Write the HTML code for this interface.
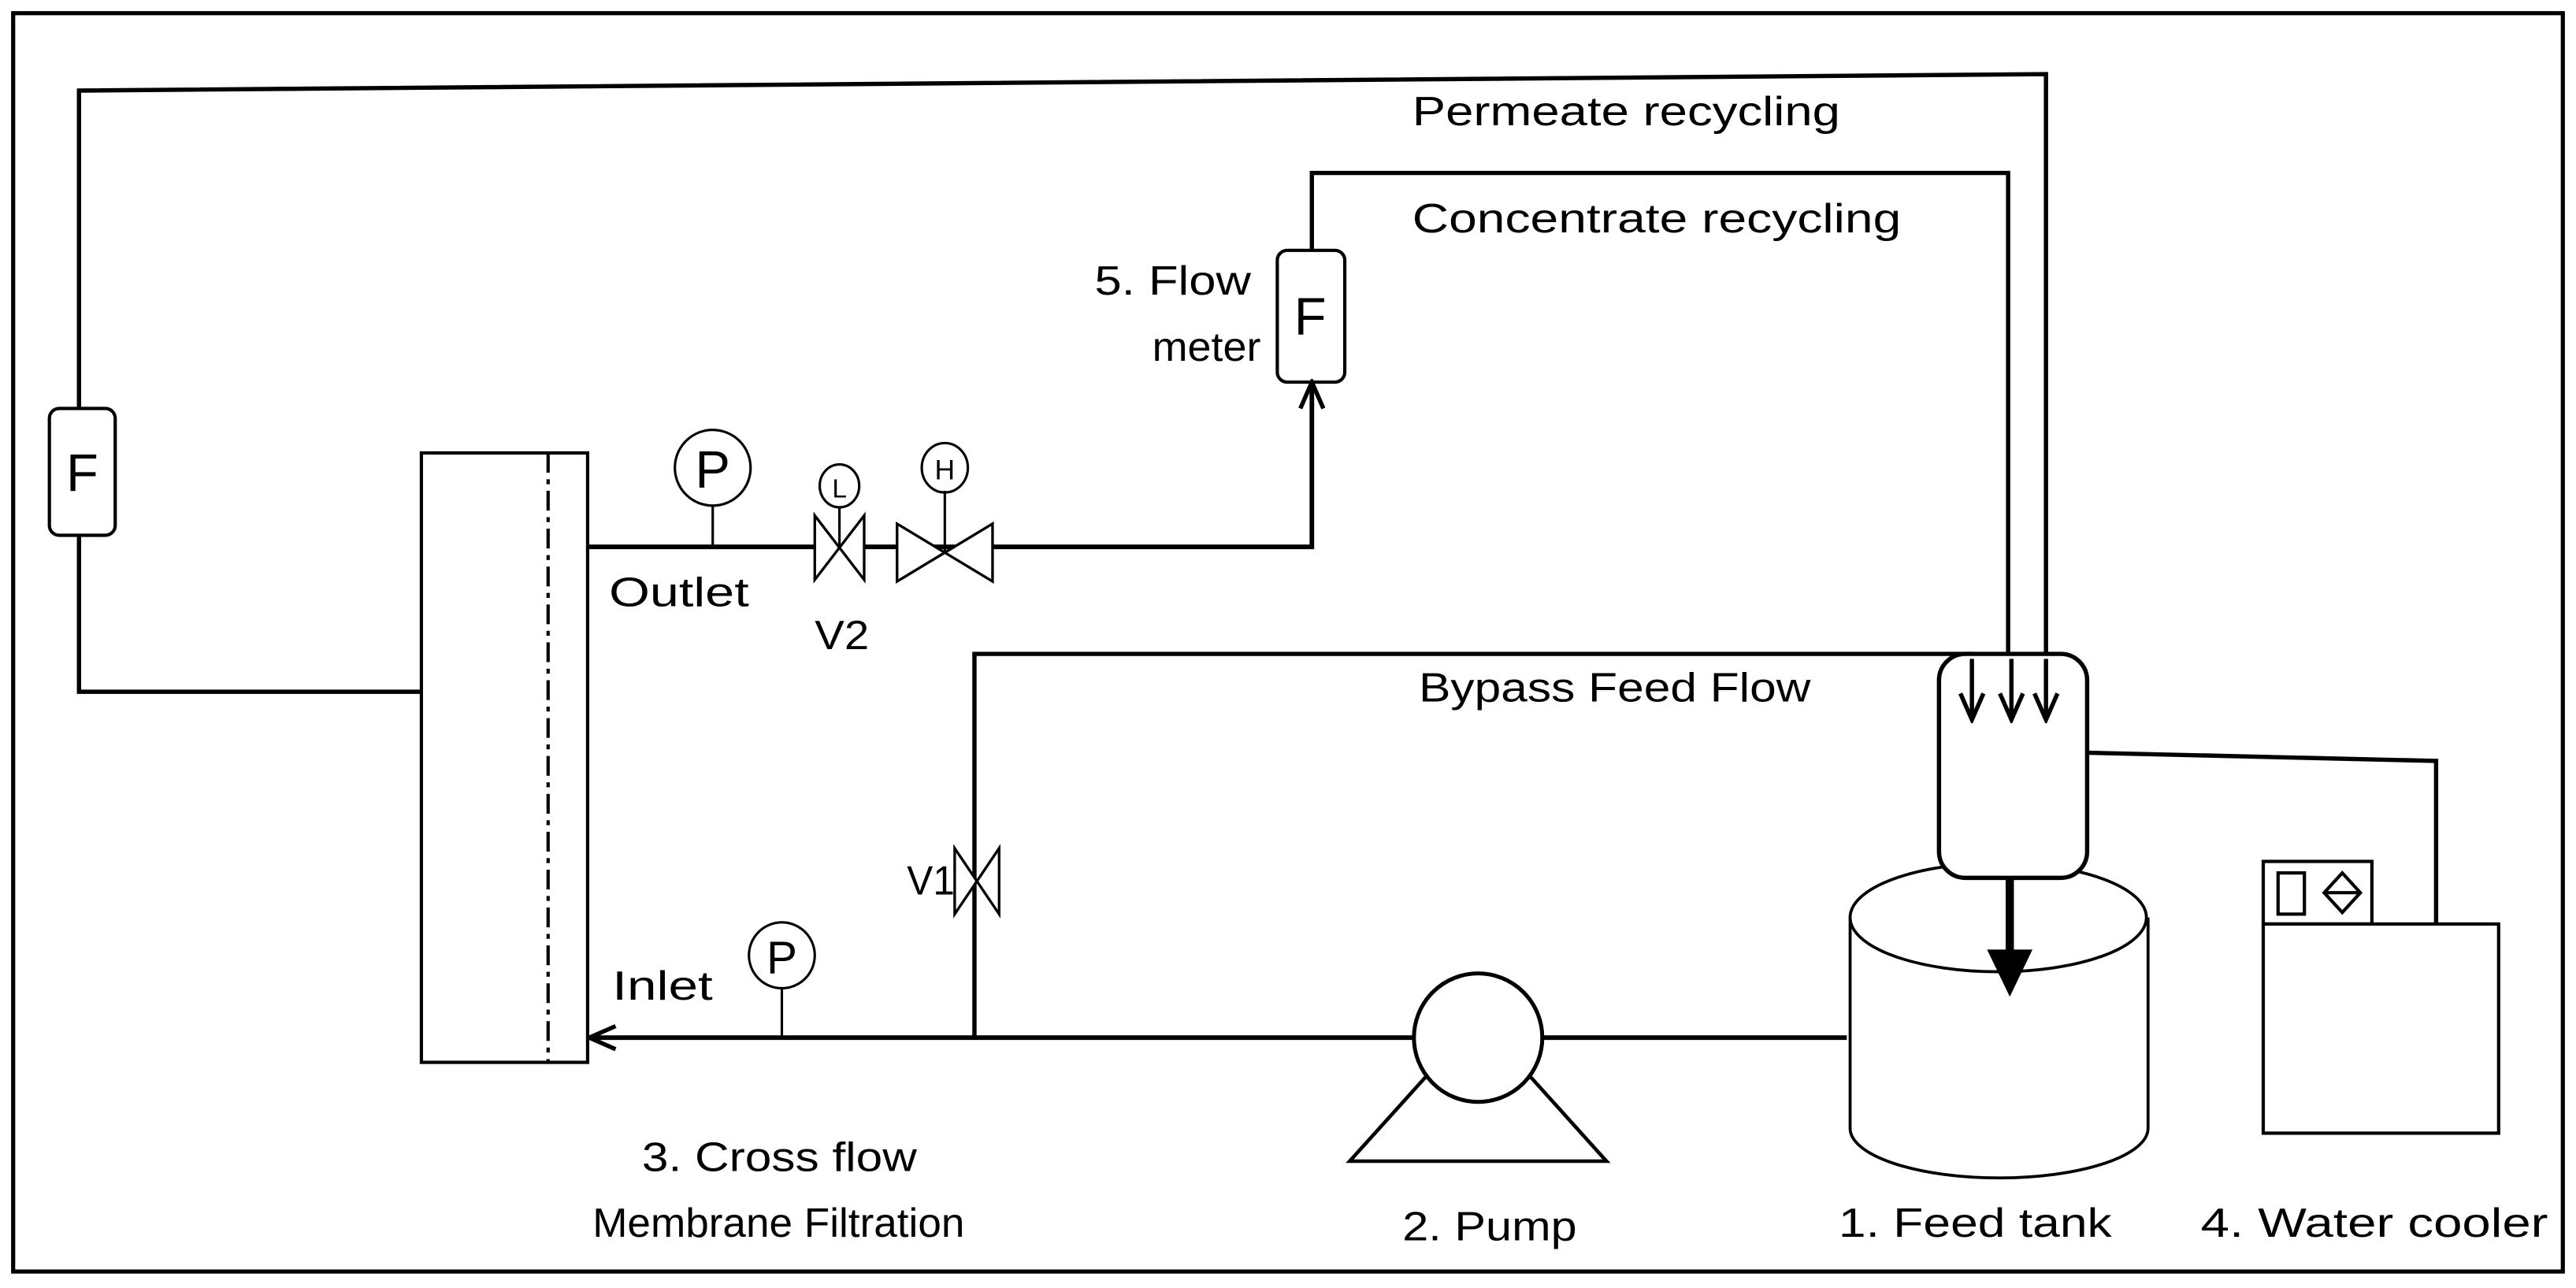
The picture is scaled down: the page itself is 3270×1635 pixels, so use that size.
<!DOCTYPE html>
<html><head><style>html,body{margin:0;padding:0;background:#fff}svg{display:block}</style></head>
<body>
<svg width="3270" height="1635" viewBox="0 0 1565 782" preserveAspectRatio="none" xmlns="http://www.w3.org/2000/svg" font-family="Liberation Sans, sans-serif" fill="none" stroke="#000">
<defs>
<marker id="a" markerWidth="20" markerHeight="20" refX="18" refY="10" orient="auto" markerUnits="userSpaceOnUse"><path d="M2,3 L18,10 L2,17" stroke="#000" stroke-width="2.6" fill="none"/></marker>
</defs>
<rect x="8" y="8" width="1549" height="764" stroke-width="2.5"/>
<!-- permeate -->
<polyline points="256,420 48,420 48,325" stroke-width="2.6"/>
<polyline points="48,248 48,55 1243,45 1243,437" stroke-width="2.6" marker-end="url(#a)"/>
<rect x="30" y="248" width="40" height="77" rx="6" stroke-width="2"/>
<text x="50" y="298" font-size="32" text-anchor="middle" fill="#000" stroke="none">F</text>
<!-- membrane -->
<rect x="256" y="275" width="101" height="370" stroke-width="2"/>
<line x1="333" y1="275" x2="333" y2="645" stroke-width="2" stroke-dasharray="12,4,3,4"/>
<!-- outlet -->
<polyline points="357,332 797,332 797,232" stroke-width="2.8" marker-end="url(#a)"/>
<rect x="776" y="152" width="41" height="80" rx="6" stroke-width="2"/>
<text x="796" y="203" font-size="32" text-anchor="middle" fill="#000" stroke="none">F</text>
<polyline points="797,152 797,105 1220,105 1220,437" stroke-width="2.6" marker-end="url(#a)"/>
<circle cx="433" cy="284" r="23" stroke-width="1.5" fill="#fff"/>
<text x="433" y="296" font-size="32" text-anchor="middle" fill="#000" stroke="none">P</text>
<line x1="433" y1="307" x2="433" y2="332" stroke-width="1.5"/>
<path d="M495,313 L525,352 L525,313 L495,352 Z" stroke-width="1.6" fill="#fff"/>
<line x1="510" y1="308" x2="510" y2="332" stroke-width="1.5"/>
<ellipse cx="510" cy="295" rx="12" ry="13" stroke-width="1.5"/>
<text x="510" y="302" font-size="16" text-anchor="middle" fill="#000" stroke="none">L</text>
<path d="M545,318 L603,353 L603,318 L545,353 Z" stroke-width="1.6" fill="#fff"/>
<line x1="574" y1="298" x2="574" y2="336" stroke-width="1.5"/>
<ellipse cx="574" cy="284" rx="14" ry="15" stroke-width="1.5"/>
<text x="574" y="291" font-size="17" text-anchor="middle" fill="#000" stroke="none">H</text>
<!-- bypass -->
<polyline points="592,630 592,397 1197,397 1197,437" stroke-width="2.6" marker-end="url(#a)"/>
<path d="M580,515 L607,555 L607,515 L580,555 Z" stroke-width="1.6" fill="#fff"/>
<!-- inlet -->
<polyline points="1122,630 358,630" stroke-width="2.8" marker-end="url(#a)"/>
<circle cx="475" cy="580" r="20" stroke-width="1.5"/>
<text x="475" y="591" font-size="28" text-anchor="middle" fill="#000" stroke="none">P</text>
<line x1="475" y1="600" x2="475" y2="630" stroke-width="1.5"/>
<!-- pump -->
<path d="M866,654 L820,705 L976,705 L930,654" stroke-width="2.2" fill="#fff"/>
<circle cx="898" cy="630" r="39" stroke-width="2.4" fill="#fff"/>
<!-- tank -->
<path d="M1124,557 L1124,685 A90,30 0 0 0 1305,685 L1305,557" stroke-width="1.8" fill="#fff"/>
<ellipse cx="1214" cy="557" rx="90" ry="33" stroke-width="1.8" fill="#fff"/>
<rect x="1178" y="397" width="90" height="136" rx="16" stroke-width="2.6" fill="#fff"/>
<line x1="1222" y1="400" x2="1222" y2="437" stroke-width="2.6" marker-end="url(#a)"/>
<line x1="1243" y1="400" x2="1243" y2="437" stroke-width="2.6" marker-end="url(#a)"/>
<line x1="1198" y1="400" x2="1198" y2="437" stroke-width="2.6" marker-end="url(#a)"/>
<line x1="1221" y1="533" x2="1221" y2="578" stroke-width="5"/>
<path d="M1208,577 L1234,577 L1221,604 Z" fill="#000" stroke-width="1"/>
<!-- cooler -->
<polyline points="1268,457 1480,462 1480,561" stroke-width="2.6"/>
<rect x="1375" y="561" width="143" height="127" stroke-width="2"/>
<rect x="1375" y="523" width="66" height="38" stroke-width="2"/>
<rect x="1384" y="530" width="16" height="25" stroke-width="2"/>
<path d="M1423,530 L1434,542 L1423,554 L1412,542 Z M1412,542 L1434,542" stroke-width="2"/>
<!-- labels -->
<g fill="#000" stroke="none" font-size="25">
<text x="858" y="76" textLength="260" lengthAdjust="spacingAndGlyphs">Permeate recycling</text>
<text x="858" y="141" textLength="297" lengthAdjust="spacingAndGlyphs">Concentrate recycling</text>
<text x="665" y="179" textLength="95" lengthAdjust="spacingAndGlyphs">5. Flow</text>
<text x="700" y="219" textLength="66" lengthAdjust="spacingAndGlyphs">meter</text>
<text x="370" y="368" textLength="85" lengthAdjust="spacingAndGlyphs">Outlet</text>
<text x="495" y="394" textLength="33" lengthAdjust="spacingAndGlyphs">V2</text>
<text x="862" y="426" textLength="238" lengthAdjust="spacingAndGlyphs">Bypass Feed Flow</text>
<text x="551" y="543" textLength="29" lengthAdjust="spacingAndGlyphs">V1</text>
<text x="372" y="607" textLength="61" lengthAdjust="spacingAndGlyphs">Inlet</text>
<text x="390" y="711" textLength="167" lengthAdjust="spacingAndGlyphs">3. Cross flow</text>
<text x="360" y="751" textLength="226" lengthAdjust="spacingAndGlyphs">Membrane Filtration</text>
<text x="852" y="753" textLength="106" lengthAdjust="spacingAndGlyphs">2. Pump</text>
<text x="1117" y="751" textLength="166" lengthAdjust="spacingAndGlyphs">1. Feed tank</text>
<text x="1337" y="751" textLength="211" lengthAdjust="spacingAndGlyphs">4. Water cooler</text>
</g>
</svg>
</body></html>
